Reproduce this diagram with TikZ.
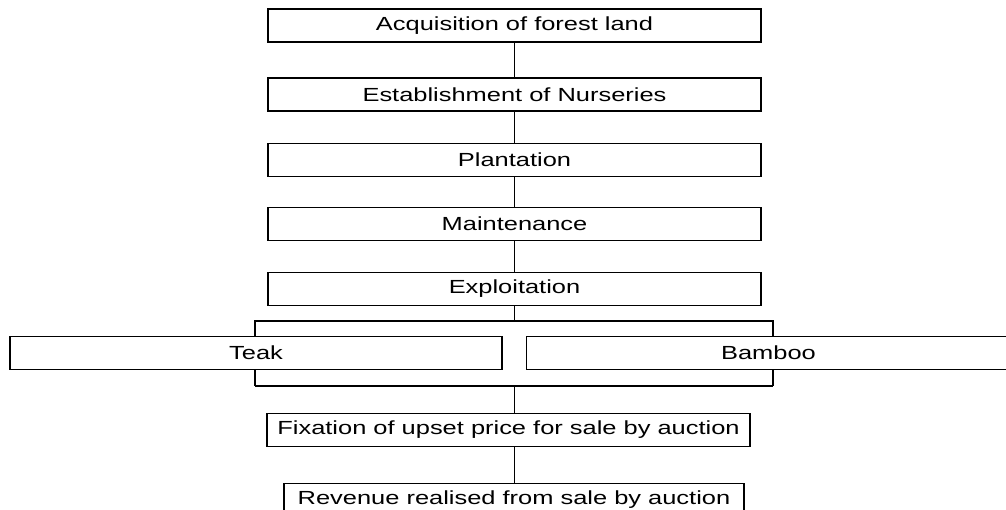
\documentclass[tikz,border=0pt]{standalone}
\usepackage{fontspec}
\setmainfont{Liberation Sans}
\usepackage{graphicx}
\newcommand{\wtext}[1]{\scalebox{1.34}[1]{#1}}
\begin{document}
\begin{tikzpicture}[x=0.25mm,y=-0.25mm,
    stage/.style={draw, line width=1pt, inner sep=0pt, minimum height=8.25mm,
        minimum width=123.25mm, font=\fontsize{13.5}{15}\selectfont},
    link/.style={line width=1.2pt},
    heavy/.style={line width=1.8pt}]
    \useasboundingbox (0,0) rectangle (1006,510);
    % Main chain of stages
    \node[stage] (acq)   at (514.5,25.5) {\wtext{Acquisition of forest land}};
    \node[stage] (est)   at (514.5,94.5) {\wtext{Establishment of Nurseries}};
    \node[stage] (plant) at (514.5,160)  {\wtext{Plantation}};
    \node[stage] (maint) at (514.5,224)  {\wtext{Maintenance}};
    \node[stage] (expl)  at (514.5,289)  {\wtext{Exploitation}};
    % The two produce branches
    \node[stage, minimum width=123mm] (teak)   at (256,353)   {\wtext{Teak}};
    \node[stage, minimum width=121mm] (bamboo) at (768.5,353) {\wtext{Bamboo}};
    \node[stage, minimum width=120.75mm] (fix) at (508.5,430)
        {\wtext{Fixation of upset price for sale by auction}};
    \node[stage, minimum width=115mm] (rev) at (514,500)
        {\wtext{Revenue realised from sale by auction}};
    \coordinate (splitL) at (255,321);
    \coordinate (splitR) at (773,321);
    \coordinate (joinL) at (255,386);
    \coordinate (joinR) at (773,386);
    \draw[link] (acq) -- (est);
    \draw[link] (est) -- (plant);
    \draw[link] (plant) -- (maint);
    \draw[link] (maint) -- (expl);
    \draw[link] (expl.south) -- (expl.south |- splitL);
    \draw[link] (splitL |- teak.north) -- (splitL) -- (splitR) -- (splitR |- bamboo.north);
    \draw[link] (joinL) -- (joinR);
    \draw[heavy] (joinL |- teak.south) -- (joinL);
    \draw[heavy] (joinR |- bamboo.south) -- (joinR);
    \draw[link] (expl.south |- joinL) -- (expl.south |- fix.north);
    \draw[link] (expl.south |- fix.south) -- (expl.south |- rev.north);
\end{tikzpicture}
\end{document}
